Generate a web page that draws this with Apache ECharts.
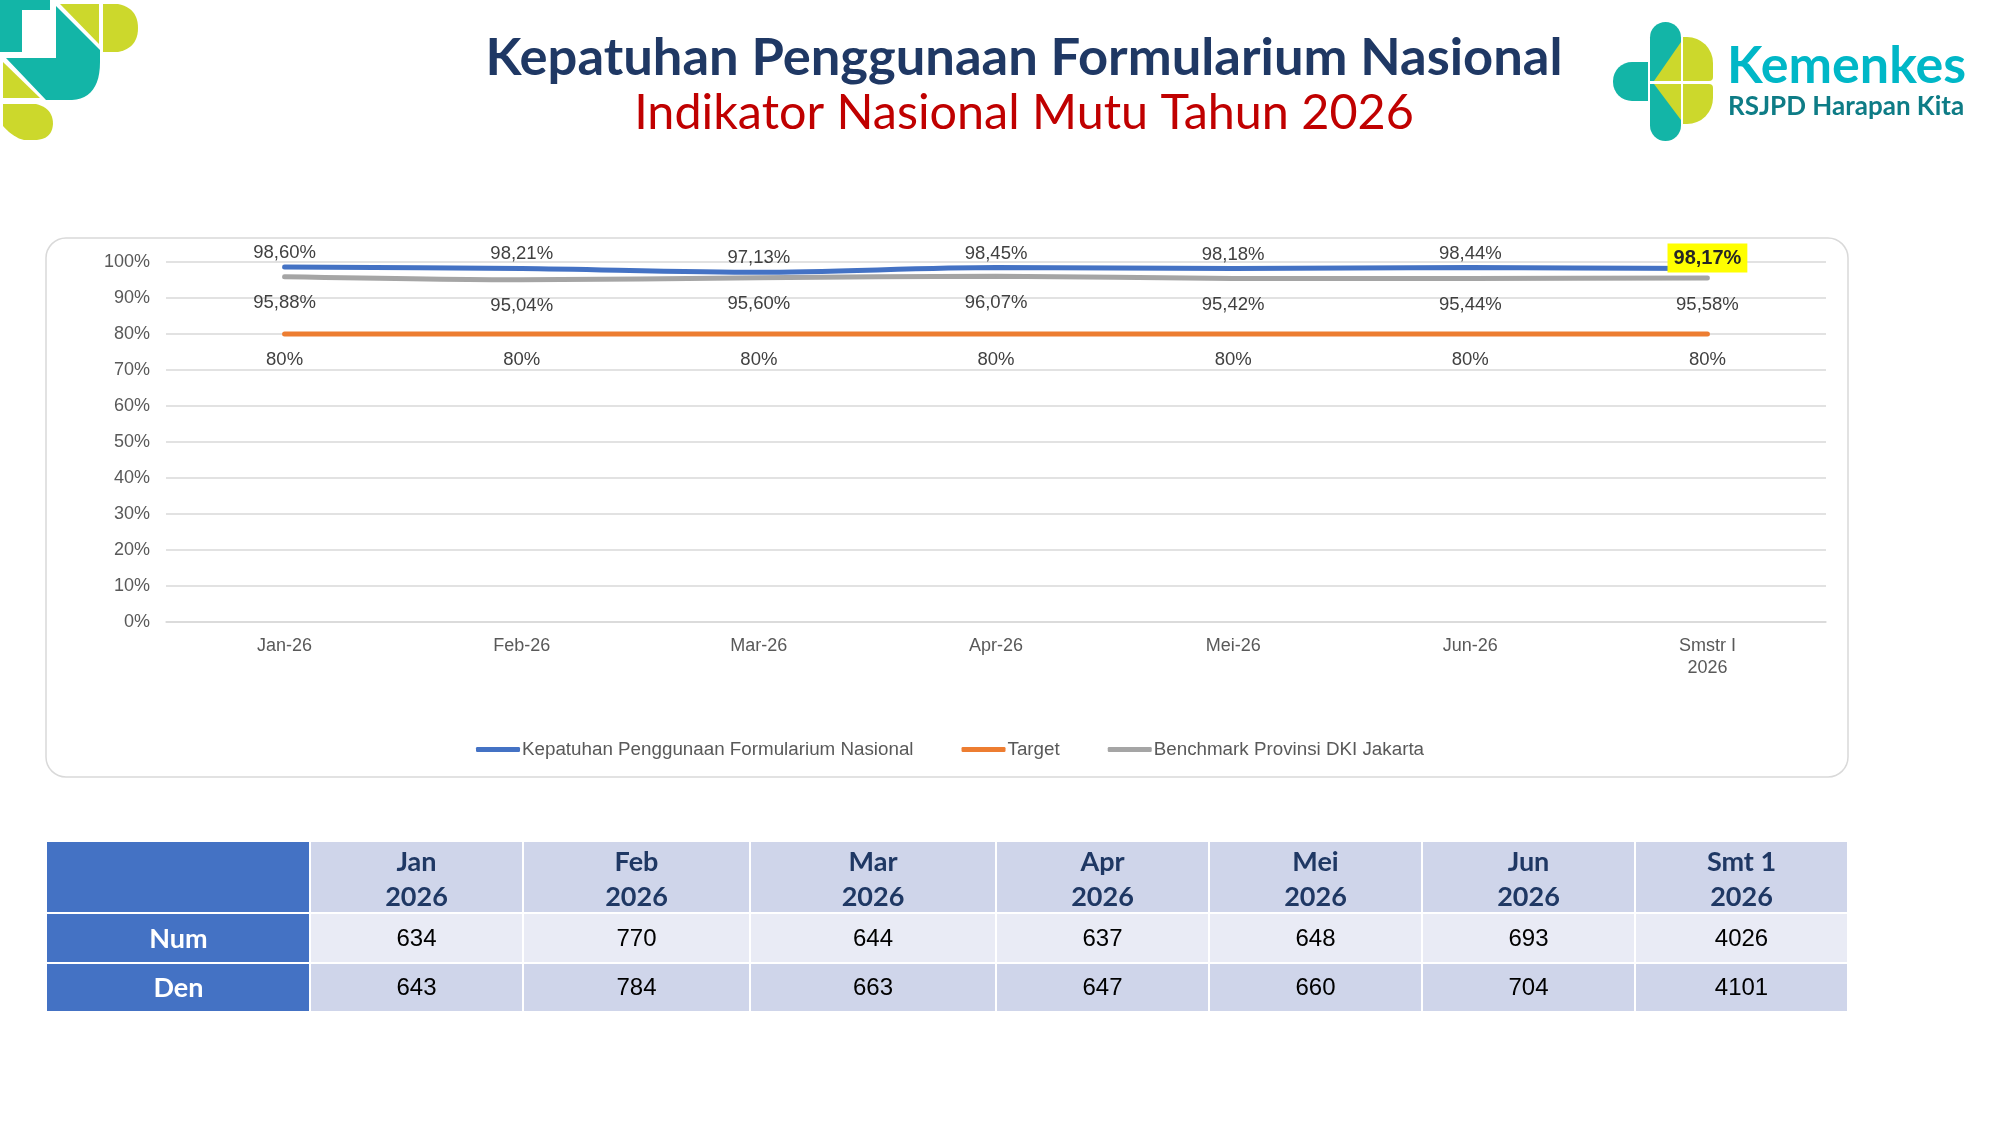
<!DOCTYPE html>
<html>
<head>
<meta charset="utf-8">
<script src="https://cdn.jsdelivr.net/npm/echarts@6/dist/echarts.min.js"></script>
<style>
html,body{margin:0;padding:0;background:#fff;}
#chart{width:2000px;height:1125px;}
</style>
</head>
<body>
<div id="chart"></div>
<script>
// ---- data ----
const categories = ['Jan-26', 'Feb-26', 'Mar-26', 'Apr-26', 'Mei-26', 'Jun-26', 'Smstr I\n2026'];
const compliance = [98.60, 98.21, 97.13, 98.45, 98.18, 98.44, 98.17];
const target = [80, 80, 80, 80, 80, 80, 80];
const benchmark = [95.88, 95.04, 95.60, 96.07, 95.42, 95.44, 95.58];
const seriesNames = ['Kepatuhan Penggunaan Formularium Nasional', 'Target', 'Benchmark Provinsi DKI Jakarta'];
const tableHeaders = ['Jan\n2026', 'Feb\n2026', 'Mar\n2026', 'Apr\n2026', 'Mei\n2026', 'Jun\n2026', 'Smt 1\n2026'];
const rowLabels = ['Num', 'Den'];
const numValues = [634, 770, 644, 637, 648, 693, 4026];
const denValues = [643, 784, 663, 647, 660, 704, 4101];
const titleText = 'Kepatuhan Penggunaan Formularium Nasional';
const subtitleText = 'Indikator Nasional Mutu Tahun 2026';

const chart = echarts.init(document.getElementById('chart'));
const fmtPct = v => v.toFixed(2).replace('.', ',') + '%';
const lblFont = 'Liberation Sans, Arial, sans-serif';

// helper: simple path (M/L/Q, absolute) -> polygon points
function pathPts(d) {
  const tok = d.match(/[MLQZ]|-?[\d.]+/g);
  const pts = [];
  let i = 0, cur = [0, 0];
  while (i < tok.length) {
    const c = tok[i++];
    if (c === 'M' || c === 'L') {
      cur = [+tok[i++], +tok[i++]];
      pts.push(cur);
    } else if (c === 'Q') {
      const cp = [+tok[i++], +tok[i++]], end = [+tok[i++], +tok[i++]];
      for (let t = 1; t <= 12; t++) {
        const u = t / 12;
        pts.push([(1-u)*(1-u)*cur[0] + 2*(1-u)*u*cp[0] + u*u*end[0], (1-u)*(1-u)*cur[1] + 2*(1-u)*u*cp[1] + u*u*end[1]]);
      }
      cur = end;
    }
  }
  return pts;
}

// ---- table graphic ----
const colEdges = [47, 310, 523, 750, 996, 1209, 1422, 1635, 1848];
const rowEdges = [842, 913, 963, 1012];
const tableEls = [];
const gap = 2;
const rows = [numValues, denValues];
for (let r = 0; r < 3; r++) {
  for (let c = 0; c < 8; c++) {
    let fill;
    if (c === 0) fill = '#4472C4';
    else if (r === 1) fill = '#E9EBF5';
    else fill = '#CFD5EA';
    const x0 = colEdges[c] + (c > 0 ? gap / 2 : 0);
    const x1 = colEdges[c + 1] - gap / 2;
    const y0 = rowEdges[r] + (r > 0 ? gap / 2 : 0);
    const y1 = rowEdges[r + 1] - gap / 2;
    tableEls.push({type: 'rect', shape: {x: x0, y: y0, width: x1 - x0, height: y1 - y0}, style: {fill: fill}, silent: true});
    const cx = (colEdges[c] + colEdges[c + 1]) / 2;
    const cy = (rowEdges[r] + rowEdges[r + 1]) / 2;
    if (r === 0 && c > 0) {
      const parts = tableHeaders[c - 1].split('\n');
      tableEls.push({type: 'text', x: cx, y: cy - 15, style: {text: parts[0], fill: '#1F3864', font: 'bold 27px Lato, sans-serif', textAlign: 'center', textVerticalAlign: 'middle'}});
      tableEls.push({type: 'text', x: cx, y: cy + 20, style: {text: parts[1], fill: '#1F3864', font: 'bold 27px Lato, sans-serif', textAlign: 'center', textVerticalAlign: 'middle'}});
    } else if (r > 0 && c === 0) {
      tableEls.push({type: 'text', x: cx, y: cy + 1, style: {text: rowLabels[r - 1], fill: '#ffffff', font: 'bold 27px Lato, sans-serif', textAlign: 'center', textVerticalAlign: 'middle'}});
    } else if (r > 0) {
      tableEls.push({type: 'text', x: cx, y: cy + 1, style: {text: String(rows[r - 1][c - 1]), fill: '#000000', font: '24px ' + lblFont, textAlign: 'center', textVerticalAlign: 'middle'}});
    }
  }
}

// ---- logos ----
const teal = '#13B5A7';
const lime = '#CCD82C';
const poly = (d, fill) => ({type: 'polygon', shape: {points: pathPts(d)}, style: {fill: fill}, silent: true});
const leftLogo = [
  poly('M0,0 L50,0 L50,10 L22,10 L22,52 L0,52 Z', teal),
  poly('M60,4 L99,4 L99,44 Z', lime),
  poly('M103,4 L118,4 Q138,8 138,28 Q138,48 118,52 L103,52 Z', lime),
  poly('M56,6 L100,50 L100,62 Q100,98 72,100 L46,100 L6,58 L56,58 Z', teal),
  poly('M3,62 L3,98 L40,98 Z', lime),
  poly('M3,104 L36,104 Q53,108 53,124 Q52,140 34,140 L24,140 Q14,138 3,126 Z', lime)
];
const rightLogo = [
  {type: 'rect', shape: {x: 1650, y: 22, width: 31, height: 59, r: [15.5, 15.5, 0, 0]}, style: {fill: teal}},
  {type: 'rect', shape: {x: 1650, y: 84, width: 31, height: 57, r: [0, 0, 15.5, 15.5]}, style: {fill: teal}},
  {type: 'rect', shape: {x: 1613, y: 62, width: 35, height: 39, r: [19, 0, 0, 19]}, style: {fill: teal}},
  poly('M1681,42 L1681,81 L1654,81 Z', lime),
  poly('M1654,84 L1681,84 L1681,120 Z', lime),
  {type: 'rect', shape: {x: 1683, y: 37, width: 30, height: 44, r: [0, 26, 4, 0]}, style: {fill: lime}},
  {type: 'rect', shape: {x: 1683, y: 84, width: 30, height: 40, r: [0, 4, 26, 0]}, style: {fill: lime}},
  {type: 'text', x: 1727, y: 66, style: {text: 'Kemenkes', fill: '#00B7C7', font: 'bold 52px Lato, sans-serif', textAlign: 'left', textVerticalAlign: 'middle'}},
  {type: 'text', x: 1728, y: 107, style: {text: 'RSJPD Harapan Kita', fill: '#0E7C86', font: 'bold 26px Lato, sans-serif', textAlign: 'left', textVerticalAlign: 'middle'}}
];

const option = {
  animation: false,
  backgroundColor: '#ffffff',
  graphic: [
    {type: 'rect', z: -1, shape: {x: 46, y: 238, width: 1802, height: 539, r: 20}, style: {fill: 'none', stroke: '#D9D9D9', lineWidth: 1.5}, silent: true},
    {type: 'text', x: 1024, y: 58, style: {text: titleText, fill: '#1F3864', font: 'bold 52.5px Lato, sans-serif', textAlign: 'center', textVerticalAlign: 'middle'}},
    {type: 'text', x: 1024, y: 113, style: {text: subtitleText, fill: '#C00000', font: '48.5px Lato, sans-serif', textAlign: 'center', textVerticalAlign: 'middle'}}
  ].concat(leftLogo, rightLogo, tableEls),
  grid: {left: 166, right: 174, top: 262, bottom: 503, containLabel: false},
  legend: {
    left: 471, top: 735,
    itemWidth: 44, itemHeight: 5, itemGap: 48,
    icon: 'roundRect',
    textStyle: {color: '#595959', fontSize: 18.8, fontFamily: lblFont, padding: [0, 0, 0, -3]},
    data: seriesNames
  },
  xAxis: {
    type: 'category',
    data: categories,
    boundaryGap: true,
    axisLine: {show: true, lineStyle: {color: '#D9D9D9', width: 1.5}},
    axisTick: {show: false},
    axisLabel: {color: '#595959', fontSize: 18, fontFamily: lblFont, margin: 13, lineHeight: 22}
  },
  yAxis: {
    type: 'value', min: 0, max: 100, interval: 10,
    axisLine: {show: false}, axisTick: {show: false},
    axisLabel: {formatter: '{value}%', color: '#595959', fontSize: 18, fontFamily: lblFont, margin: 16},
    splitLine: {lineStyle: {color: '#D9D9D9', width: 1.5}}
  },
  series: [
    {
      name: seriesNames[1], type: 'line', data: target, z: 2,
      symbol: 'circle', symbolSize: 0.1, color: '#ED7D31',
      lineStyle: {width: 5, color: '#ED7D31', cap: 'round'},
      label: {show: true, position: 'bottom', distance: 16, color: '#404040', fontSize: 18.5, fontFamily: lblFont, formatter: p => p.value + '%'}
    },
    {
      name: seriesNames[2], type: 'line', data: benchmark, z: 3, smooth: 0.3,
      symbol: 'circle', symbolSize: 0.1, color: '#A5A5A5',
      lineStyle: {width: 5, color: '#A5A5A5', cap: 'round'},
      label: {show: true, position: 'bottom', distance: 17, color: '#404040', fontSize: 18.5, fontFamily: lblFont, formatter: p => fmtPct(p.value)}
    },
    {
      name: seriesNames[0], type: 'line', z: 4, smooth: 0.3,
      data: compliance.map((v, i) => i === compliance.length - 1 ? {value: v, label: {backgroundColor: '#FFFF00', fontWeight: 'bold', color: '#262626', fontSize: 20, padding: [5, 6, 4, 6], distance: -4}} : v),
      symbol: 'circle', symbolSize: 0.1, color: '#4472C4',
      lineStyle: {width: 5, color: '#4472C4', cap: 'round'},
      label: {show: true, position: 'top', distance: 4.5, color: '#404040', fontSize: 18.5, fontFamily: lblFont, formatter: p => fmtPct(p.value)}
    }
  ]
};
chart.setOption(option);
</script>
</body>
</html>
